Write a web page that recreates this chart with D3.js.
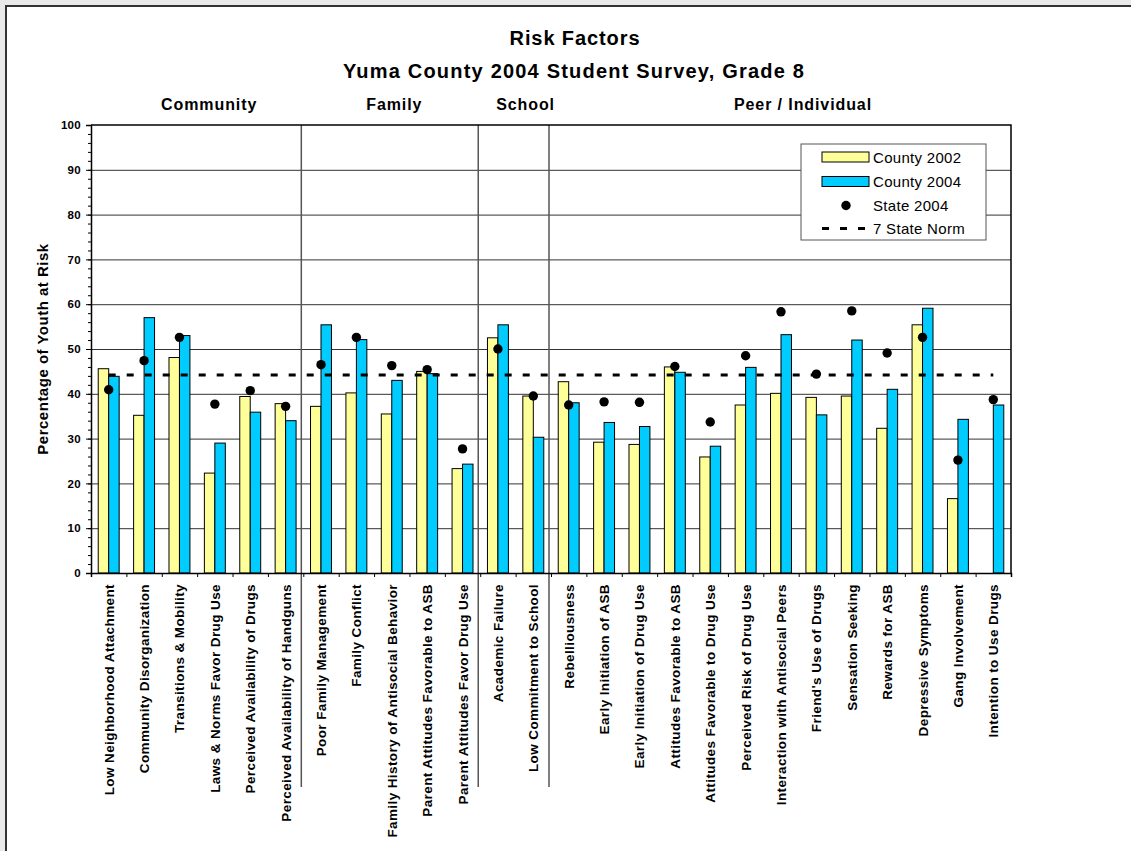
<!DOCTYPE html>
<html>
<head>
<meta charset="utf-8">
<script src="https://cdnjs.cloudflare.com/ajax/libs/d3/7.8.5/d3.min.js"></script>
<style>
  html, body { margin: 0; padding: 0; background: #e9e9e9; }
  svg { display: block; }
  text { font-family: "Liberation Sans", Arial, sans-serif; }
</style>
</head>
<body>
<svg width="1131" height="851"></svg>
<script>
// data
const categories = [
  'Low Neighborhood Attachment', 'Community Disorganization', 'Transitions & Mobility',
  'Laws & Norms Favor Drug Use', 'Perceived Availability of Drugs', 'Perceived Availability of Handguns',
  'Poor Family Management', 'Family Conflict', 'Family History of Antisocial Behavior',
  'Parent Attitudes Favorable to ASB', 'Parent Attitudes Favor Drug Use',
  'Academic Failure', 'Low Commitment to School',
  'Rebelliousness', 'Early Initiation of ASB', 'Early Initiation of Drug Use',
  'Attitudes Favorable to ASB', 'Attitudes Favorable to Drug Use', 'Perceived Risk of Drug Use',
  'Interaction with Antisocial Peers', "Friend's Use of Drugs", 'Sensation Seeking',
  'Rewards for ASB', 'Depressive Symptoms', 'Gang Involvement', 'Intention to Use Drugs'
];
const county2002 = [45.6, 35.2, 48.1, 22.3, 39.4, 37.8, 37.2, 40.2, 35.5, 45.0, 23.3, 52.5, 39.5,
  42.7, 29.2, 28.7, 46.0, 25.9, 37.5, 40.1, 39.2, 39.5, 32.3, 55.4, 16.6, null];
const county2004 = [43.9, 57.0, 53.0, 29.0, 35.9, 34.0, 55.4, 52.1, 43.0, 44.5, 24.3, 55.4, 30.3,
  38.0, 33.6, 32.7, 44.8, 28.3, 45.9, 53.2, 35.3, 52.0, 41.0, 59.1, 34.3, 37.5];
const state2004 = [40.9, 47.4, 52.6, 37.7, 40.7, 37.2, 46.5, 52.6, 46.3, 45.4, 27.7, 50.0, 39.5,
  37.5, 38.2, 38.1, 46.1, 33.7, 48.5, 58.3, 44.4, 58.5, 49.1, 52.6, 25.2, 38.7];
const stateNorm = 44.2;
const groups = ['Community', 'Family', 'School', 'Peer / Individual'];
const groupSizes = [6, 5, 2, 13];
const seriesNames = ['County 2002', 'County 2004', 'State 2004', '7 State Norm'];
const yTicks = [0, 10, 20, 30, 40, 50, 60, 70, 80, 90, 100];

const colors = { c2002: '#ffff99', c2004: '#00ccff' };

const svg = d3.select('svg');

// page frame
svg.append('rect').attr('x', 5).attr('y', 5).attr('width', 1200).attr('height', 900).attr('fill', '#fff');
svg.append('path').attr('d', 'M6,851V6H1131').attr('fill', 'none').attr('stroke', '#333').attr('stroke-width', 2);

const pL = 91, pR = 1011, pT = 125, pB = 573;

const x = d3.scaleBand().domain(categories).range([pL, pR]);
const xs = d3.scaleBand().domain(['2002', '2004']).range([0, x.bandwidth()]).paddingOuter(0.69);
const xi = d3.scaleLinear().domain([0, categories.length]).range([pL, pR]);
const y = d3.scaleLinear().domain([0, 100]).range([pB, pT]);

// titles
svg.append('text').attr('x', 575).attr('y', 45).attr('text-anchor', 'middle')
  .attr('font-size', 20).attr('font-weight', 'bold').attr('letter-spacing', 0.9).text('Risk Factors');
svg.append('text').attr('x', 574).attr('y', 78).attr('text-anchor', 'middle')
  .attr('font-size', 20).attr('font-weight', 'bold').attr('letter-spacing', 1.2)
  .text('Yuma County 2004 Student Survey, Grade 8');

// gridlines
svg.append('g').attr('transform', `translate(${pL},0)`)
  .call(d3.axisLeft(y).tickValues(yTicks.slice(1, -1)).tickSize(-(pR - pL)).tickFormat(''))
  .call(g => g.select('.domain').remove())
  .call(g => g.selectAll('line').attr('stroke', '#333'));

// group dividers and labels
const starts = d3.cumsum([0].concat(groupSizes));
const labelShift = [12, 2.5, 10, 22];
starts.slice(1, -1).forEach(s => {
  svg.append('line').attr('x1', xi(s) - 2).attr('x2', xi(s) - 2).attr('y1', pT).attr('y2', 787)
    .attr('stroke', '#555').attr('stroke-width', 1.5);
});
groups.forEach((gname, i) => {
  const cx = (xi(starts[i]) + xi(starts[i + 1])) / 2 + labelShift[i];
  svg.append('text').attr('x', cx).attr('y', 110).attr('text-anchor', 'middle')
    .attr('font-size', 16).attr('font-weight', 'bold').attr('letter-spacing', 0.9).text(gname);
});

// bars
const bars = svg.append('g');
categories.forEach((c, i) => {
  [['2002', county2002[i], colors.c2002], ['2004', county2004[i], colors.c2004]].forEach(([k, v, col]) => {
    if (v == null) return;
    bars.append('rect')
      .attr('x', x(c) + xs(k)).attr('width', xs.bandwidth())
      .attr('y', y(v)).attr('height', y(0) - y(v))
      .attr('fill', col).attr('stroke', '#000').attr('stroke-width', 1);
  });
});

// norm line
svg.append('line')
  .attr('x1', x(categories[0]) + x.bandwidth() / 2)
  .attr('x2', x(categories[categories.length - 1]) + x.bandwidth() / 2)
  .attr('y1', y(stateNorm)).attr('y2', y(stateNorm))
  .attr('stroke', '#000').attr('stroke-width', 3).attr('stroke-dasharray', '7,11');

// state dots
svg.append('g').selectAll('circle').data(state2004).join('circle')
  .attr('cx', (d, i) => x(categories[i]) + x.bandwidth() / 2)
  .attr('cy', d => y(d)).attr('r', 4.7).attr('fill', '#000');

// plot frame
svg.append('path').attr('d', `M${pL},${pT}H${pR}V${pB}`)
  .attr('fill', 'none').attr('stroke', '#000').attr('stroke-width', 1.5);

// y axis
svg.append('g').attr('transform', `translate(${pL},0)`)
  .call(d3.axisLeft(y).tickValues(d3.range(0, 101, 2)).tickSize(3).tickFormat(''))
  .call(g => g.select('.domain').remove());
svg.append('g').attr('transform', `translate(${pL},0)`)
  .call(d3.axisLeft(y).tickValues(yTicks).tickSize(5).tickPadding(5))
  .call(g => g.select('.domain').attr('stroke-width', 1.5))
  .call(g => g.selectAll('text').attr('font-size', 11.5).attr('font-weight', 'bold')
    .attr('letter-spacing', 0.3).attr('font-family', '"Liberation Sans", Arial, sans-serif'));

svg.append('text')
  .attr('transform', `translate(48,${(pT + pB) / 2}) rotate(-90)`)
  .attr('text-anchor', 'middle').attr('font-size', 15).attr('font-weight', 'bold')
  .attr('letter-spacing', 0.5).text('Percentage of Youth at Risk');

// x axis
svg.append('g').attr('transform', `translate(0,${pB})`)
  .call(d3.axisBottom(xi).tickValues(d3.range(0, categories.length + 1)).tickSize(4).tickFormat(''))
  .call(g => g.select('.domain').attr('stroke-width', 1.5));

svg.append('g').selectAll('text').data(categories).join('text')
  .attr('transform', d => `translate(${x(d) + x.bandwidth() / 2 + 5},584) rotate(-90)`)
  .attr('text-anchor', 'end').attr('font-size', 13.5).attr('font-weight', 'bold')
  .attr('letter-spacing', 0.4).text(d => d);

// legend
const lg = svg.append('g').attr('transform', 'translate(801,144)');
lg.append('rect').attr('width', 185).attr('height', 96).attr('fill', '#fff').attr('stroke', '#555');
const rowY = [13, 37.5, 61.5, 84.5];
[colors.c2002, colors.c2004].forEach((col, i) => {
  lg.append('rect').attr('x', 21).attr('y', rowY[i] - 5).attr('width', 47).attr('height', 10)
    .attr('fill', col).attr('stroke', '#000');
});
lg.append('circle').attr('cx', 45).attr('cy', rowY[2]).attr('r', 4.7).attr('fill', '#000');
lg.append('line').attr('x1', 21).attr('x2', 67).attr('y1', rowY[3]).attr('y2', rowY[3])
  .attr('stroke', '#000').attr('stroke-width', 3).attr('stroke-dasharray', '7,11');
seriesNames.forEach((s, i) => {
  lg.append('text').attr('x', 72).attr('y', rowY[i] + 5.5).attr('font-size', 15)
    .attr('letter-spacing', 0.3).text(s);
});
</script>
</body>
</html>
